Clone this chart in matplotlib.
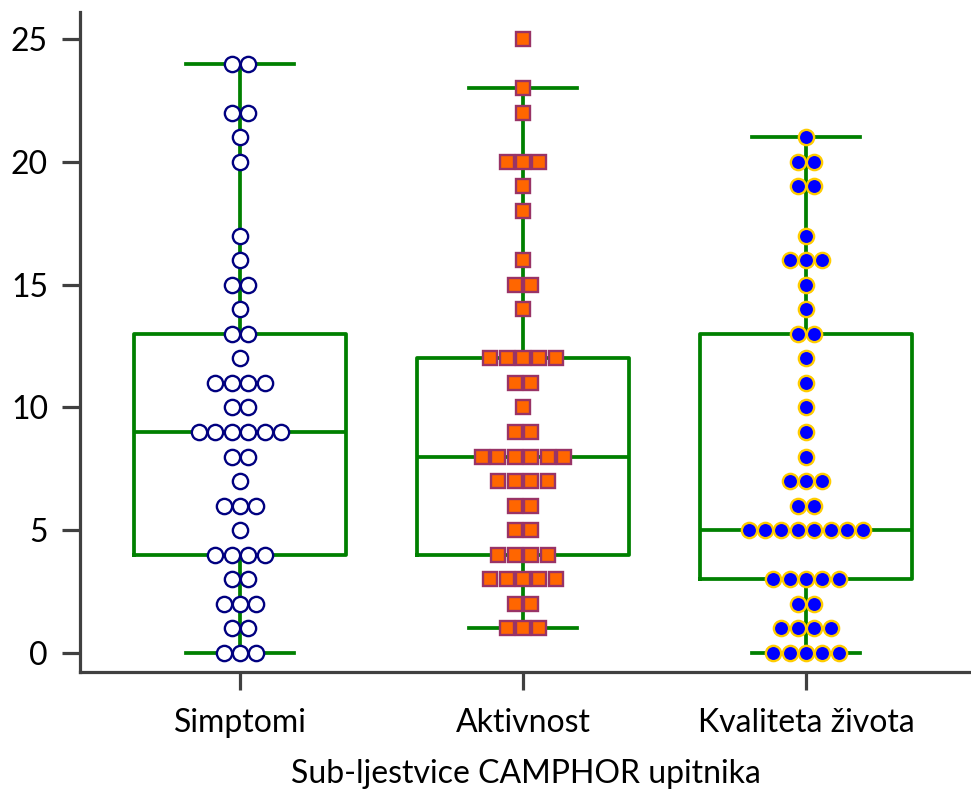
import matplotlib
matplotlib.use("Agg")
import matplotlib.pyplot as plt
import numpy as np

plt.rcParams['font.family'] = ['Lato', 'DejaVu Sans']

categories = ["Simptomi", "Aktivnost", "Kvaliteta života"]
xlabel = "Sub-ljestvice CAMPHOR upitnika"
yticks = [0, 5, 10, 15, 20, 25]

# score level -> number of respondents
simptomi_levels = [0, 1, 2, 3, 4, 5, 6, 7, 8, 9, 10, 11, 12, 13, 14, 15, 16, 17, 20, 21, 22, 24]
simptomi_counts = [3, 2, 3, 2, 4, 1, 3, 1, 2, 6, 2, 4, 1, 2, 1, 2, 1, 1, 1, 1, 2, 2]

aktivnost_levels = [1, 2, 3, 4, 5, 6, 7, 8, 9, 10, 11, 12, 14, 15, 16, 18, 19, 20, 22, 23, 25]
aktivnost_counts = [3, 2, 5, 4, 2, 2, 4, 6, 2, 1, 2, 5, 1, 2, 1, 1, 1, 3, 1, 1, 1]

kvaliteta_levels = [0, 1, 2, 3, 5, 6, 7, 8, 9, 10, 11, 12, 13, 14, 15, 16, 17, 19, 20, 21]
kvaliteta_counts = [5, 4, 2, 5, 8, 2, 3, 1, 1, 1, 1, 1, 2, 1, 1, 3, 1, 2, 2, 1]

# box statistics: lower whisker, Q1, median, Q3, upper whisker
whisker_lo = [0, 1, 0]
q1 = [4, 4, 3]
median = [9, 8, 5]
q3 = [13, 12, 13]
whisker_hi = [24, 23, 21]

green = "#008000"
axis_col = "#404040"

fig = plt.figure(figsize=(9.71, 7.91), dpi=100)
ax = fig.add_axes([0.0824, 0.1504, 0.9176, 0.8344])

stats = []
for i in range(3):
    stats.append(dict(whislo=whisker_lo[i], q1=q1[i], med=median[i], q3=q3[i],
                      whishi=whisker_hi[i], fliers=[], label=categories[i]))
line = dict(color=green, linewidth=2.7)
ax.bxp(stats, positions=[0, 1, 2], widths=0.75, showfliers=False,
       boxprops=line, medianprops=line, whiskerprops=line, capprops=line,
       capwidths=0.38, zorder=2)

groups = [
    (simptomi_levels, simptomi_counts, dict(marker='o', mfc='white', mec='#000080', ms=11, mew=1.7)),
    (aktivnost_levels, aktivnost_counts, dict(marker='s', mfc='#FF6600', mec='#993366', ms=10.3, mew=1.7)),
    (kvaliteta_levels, kvaliteta_counts, dict(marker='o', mfc='#0000FF', mec='#FFCC00', ms=11, mew=1.7)),
]
step = 0.058
for gi, (levels, counts, style) in enumerate(groups):
    xs, ys = [], []
    for lev, n in zip(levels, counts):
        for k in range(n):
            xs.append(gi + (k - (n - 1) / 2) * step)
            ys.append(lev)
    ax.plot(xs, ys, linestyle='none', zorder=3, **style)

ax.set_xlim(-0.565, 2.583)
ax.set_ylim(-0.774, 26.1)
ax.set_yticks(yticks)
ax.set_xticks([0, 1, 2])
ax.set_xticklabels(categories)
ax.set_xlabel(xlabel, fontsize=23, labelpad=15)

for s in ['top', 'right']:
    ax.spines[s].set_visible(False)
for s in ['left', 'bottom']:
    ax.spines[s].set_color(axis_col)
    ax.spines[s].set_linewidth(2.3)
ax.tick_params(axis='both', direction='out', length=13, width=2.3, color=axis_col,
               labelsize=23, pad=10)
ax.tick_params(axis='x', pad=13)

fig.savefig("out.png", dpi=100)
